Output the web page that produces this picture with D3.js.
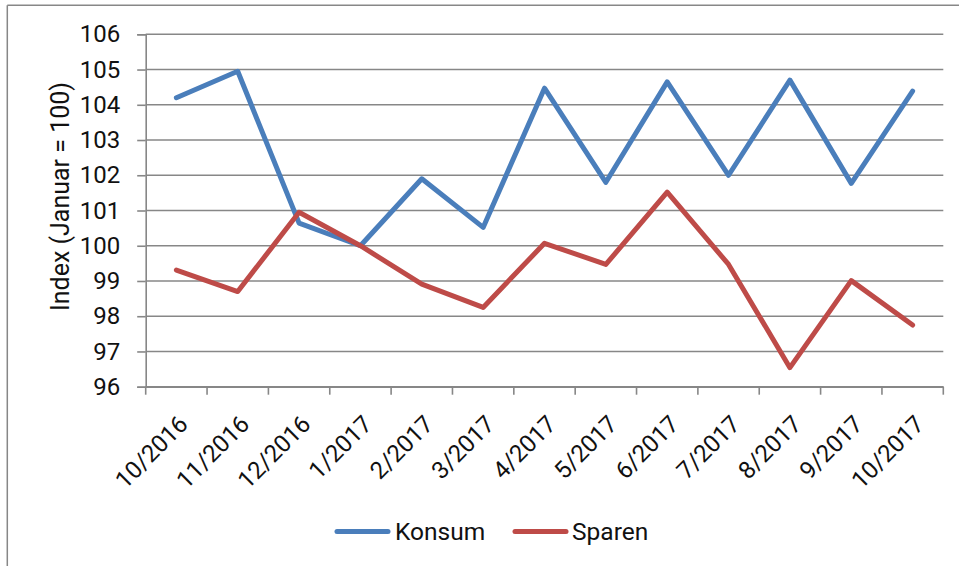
<!DOCTYPE html>
<html>
<head>
<meta charset="utf-8">
<script src="https://cdn.jsdelivr.net/npm/d3@7"></script>
<style>
  html, body { margin: 0; padding: 0; background: #fff; }
  svg { display: block; }
  text { font-family: Roboto, "Liberation Sans", sans-serif; fill: #111; }
</style>
</head>
<body>
<svg id="chart" width="959" height="566"></svg>
<script>
const categories = ["10/2016","11/2016","12/2016","1/2017","2/2017","3/2017","4/2017","5/2017","6/2017","7/2017","8/2017","9/2017","10/2017"];
const konsum = [104.2, 104.95, 100.64, 100.0, 101.9, 100.52, 104.47, 101.8, 104.65, 102.0, 104.7, 101.77, 104.39];
const sparen = [99.31, 98.7, 100.95, 100.0, 98.91, 98.25, 100.07, 99.47, 101.52, 99.47, 96.54, 99.01, 97.75];
const seriesNames = ["Konsum", "Sparen"];
const seriesColors = ["#4A7EBB", "#BE4B48"];
const yTicks = [96, 97, 98, 99, 100, 101, 102, 103, 104, 105, 106];
const yTitle = "Index (Januar = 100)";

const svg = d3.select("#chart");
const pLeft = 145.7, pRight = 943.3, pTop = 34.3, pBottom = 386.7;
const gridColor = "#878787";

// outer frame (top and left edges visible)
svg.append("line").attr("x1", 7.3).attr("x2", 959).attr("y1", 5.3).attr("y2", 5.3)
  .attr("stroke", gridColor).attr("stroke-width", 1.5);
svg.append("line").attr("x1", 7.3).attr("x2", 7.3).attr("y1", 5.3).attr("y2", 566)
  .attr("stroke", gridColor).attr("stroke-width", 1.5);

const x = d3.scaleBand().domain(categories).range([pLeft, pRight]);
const y = d3.scaleLinear().domain([96, 106]).range([pBottom, pTop]);

// gridlines
svg.append("g").selectAll("line").data(yTicks).join("line")
  .attr("x1", pLeft).attr("x2", pRight)
  .attr("y1", d => y(d)).attr("y2", d => y(d))
  .attr("stroke", gridColor).attr("stroke-width", 1.6);

// y axis
const yAxis = svg.append("g").attr("transform", `translate(${pLeft},0)`)
  .call(d3.axisLeft(y).tickValues(yTicks).tickSize(8.5).tickPadding(17).tickFormat(d3.format("d")));
yAxis.select(".domain").attr("stroke", gridColor).attr("stroke-width", 1.6);
yAxis.selectAll(".tick line").attr("stroke", gridColor).attr("stroke-width", 1.6);
yAxis.selectAll(".tick text").attr("font-size", 24).attr("fill", "#111")
  .attr("font-family", "Roboto, sans-serif");

// x axis
const xAxis = svg.append("g").attr("transform", `translate(0,${pBottom})`)
  .call(d3.axisBottom(x).tickSize(0).tickFormat(d => d));
xAxis.select(".domain").attr("stroke", gridColor).attr("stroke-width", 1.6);
const bounds = categories.map(c => x(c)).concat([x(categories[categories.length - 1]) + x.bandwidth()]);
xAxis.append("g").selectAll("line").data(bounds).join("line")
  .attr("x1", d => d).attr("x2", d => d).attr("y1", 0).attr("y2", 8)
  .attr("stroke", gridColor).attr("stroke-width", 1.6);
xAxis.selectAll(".tick text")
  .attr("font-size", 24).attr("fill", "#111").attr("font-family", "Roboto, sans-serif")
  .attr("text-anchor", "end")
  .attr("dy", null).attr("y", 0)
  .attr("transform", "translate(13,39) rotate(-45)");

// y title
svg.append("text")
  .attr("transform", `translate(69,${(pTop + pBottom) / 2 - 14}) rotate(-90)`)
  .attr("text-anchor", "middle").attr("font-size", 25)
  .text(yTitle);

// lines
const line = d3.line().x((d, i) => x(categories[i]) + x.bandwidth() / 2).y(d => y(d));
[konsum, sparen].forEach((vals, k) => {
  svg.append("path").datum(vals)
    .attr("d", line).attr("fill", "none")
    .attr("stroke", seriesColors[k]).attr("stroke-width", 5)
    .attr("stroke-linejoin", "round").attr("stroke-linecap", "round");
});

// legend
const legendItems = [{x0: 335, tx: 395}, {x0: 513, tx: 572}];
seriesNames.forEach((name, k) => {
  const g = svg.append("g");
  g.append("line").attr("x1", legendItems[k].x0 + 2).attr("x2", legendItems[k].x0 + 53)
    .attr("y1", 531.5).attr("y2", 531.5)
    .attr("stroke", seriesColors[k]).attr("stroke-width", 5).attr("stroke-linecap", "round");
  g.append("text").attr("x", legendItems[k].tx).attr("y", 540)
    .attr("font-size", 24.5).text(name);
});
</script>
</body>
</html>
